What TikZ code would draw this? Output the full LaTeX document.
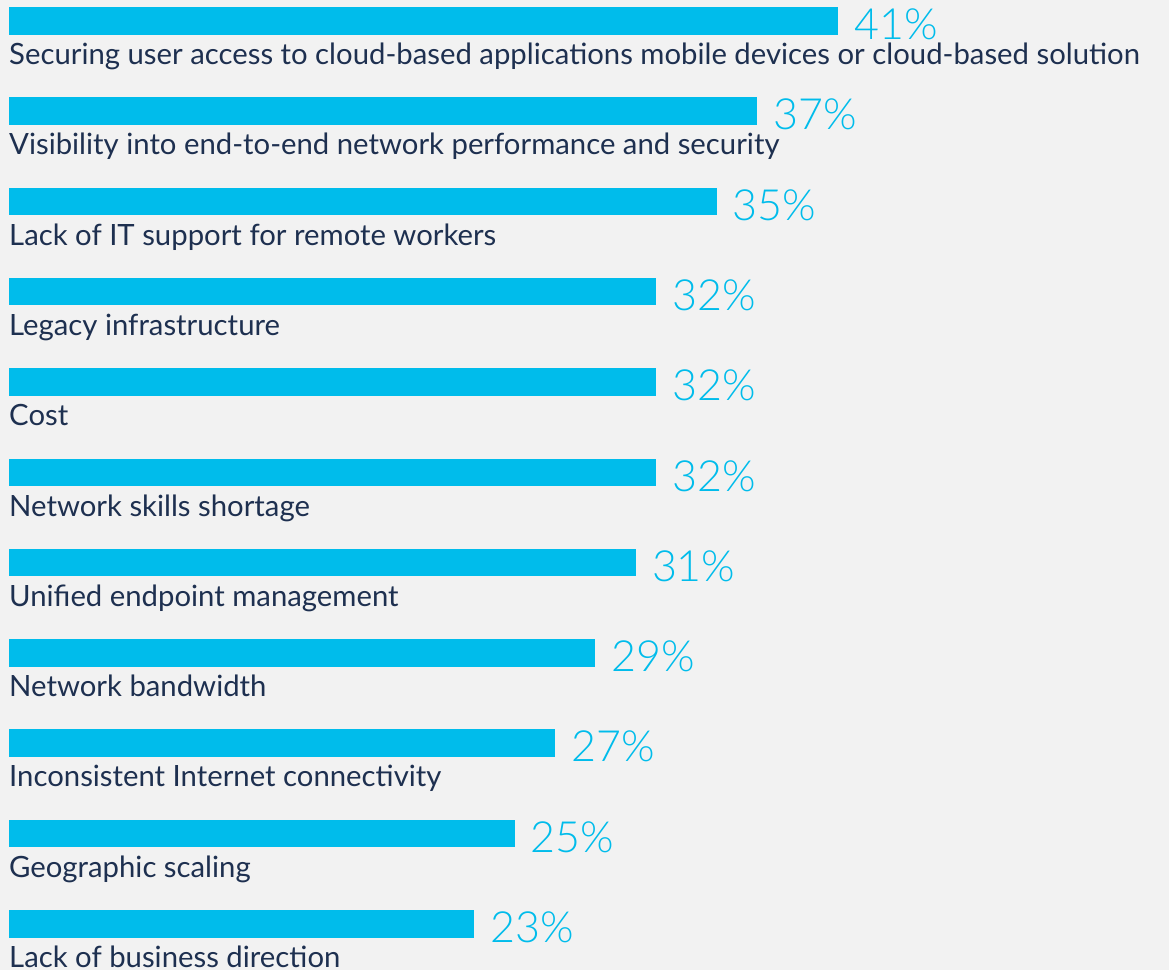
\documentclass[tikz,border=0pt]{standalone}
\usepackage{fontspec}
\setmainfont{Lato}
\newfontfamily\pctfont{Lato Light}
\definecolor{bg}{HTML}{F2F2F2}
\definecolor{barblue}{HTML}{00BCEB}
\definecolor{navy}{HTML}{1E3050}
\begin{document}
\begin{tikzpicture}[x=1pt,y=-1pt,
  barbox/.style={fill=barblue,draw=none},
  lab/.style={anchor=base west,inner sep=0pt,text=navy,font=\fontsize{29.3}{30}\selectfont},
  pct/.style={anchor=base west,inner sep=0pt,text=barblue,font=\pctfont\fontsize{43}{43}\selectfont}]
\fill[bg] (0,0) rectangle (1169,970);
\useasboundingbox (0,0) rectangle (1169,970);
\foreach \p/\t [count=\i from 0] in {
 41/{Securing user access to cloud-based applications mobile devices or cloud-based solution},
 37/{Visibility into end-to-end network performance and security},
 35/{Lack of IT support for remote workers},
 32/{Legacy infrastructure},
 32/{Cost},
 32/{Network skills shortage},
 31/{Unified endpoint management},
 29/{Network bandwidth},
 27/{Inconsistent Internet connectivity},
 25/{Geographic scaling},
 23/{Lack of business direction}} {
  \pgfmathsetmacro{\top}{7+90.3*\i}
  \pgfmathsetmacro{\xe}{9+20.22*\p}
  \path[barbox] (9,\top) rectangle (\xe,\top+27.5) node[midway,inner sep=0pt] (bar\i) {};
  \node[lab] (lab\i) at (9,\top+57.5) {\t};
  \node[pct] (pct\i) at (\xe+16,\top+32.5) {\p\%};
}
\end{tikzpicture}
\end{document}
